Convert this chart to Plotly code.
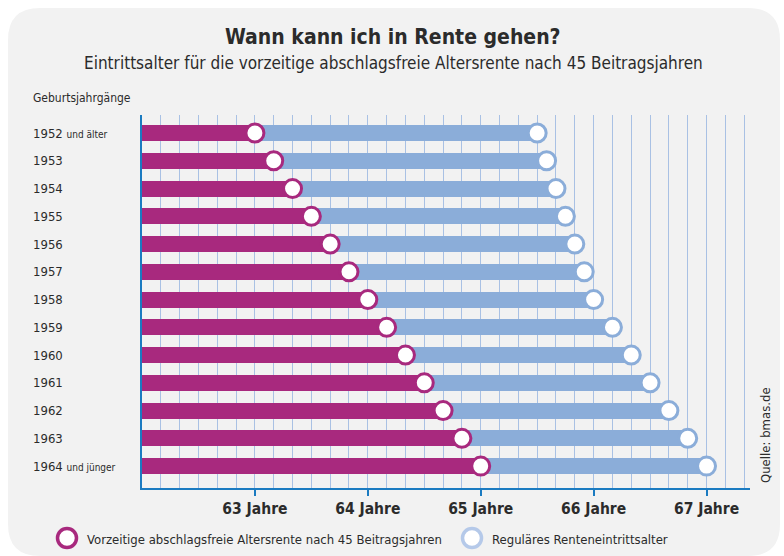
import plotly.graph_objects as go

# ---- data ----
cohorts = ["1952", "1953", "1954", "1955", "1956", "1957", "1958",
           "1959", "1960", "1961", "1962", "1963", "1964"]
cohort_suffix = ["und älter", "", "", "", "", "", "", "", "", "", "", "", "und jünger"]
# ages in (years, months)
early_age = [(63, 0), (63, 2), (63, 4), (63, 6), (63, 8), (63, 10), (64, 0),
             (64, 2), (64, 4), (64, 6), (64, 8), (64, 10), (65, 0)]
regular_age = [(65, 6), (65, 7), (65, 8), (65, 9), (65, 10), (65, 11), (66, 0),
               (66, 2), (66, 4), (66, 6), (66, 8), (66, 10), (67, 0)]
tick_years = [63, 64, 65, 66, 67]
tick_labels = ["63 Jahre", "64 Jahre", "65 Jahre", "66 Jahre", "67 Jahre"]

early = [y + m / 12 for y, m in early_age]
regular = [y + m / 12 for y, m in regular_age]
x_start = 62.0
idx = list(range(len(cohorts)))

MAGENTA = "#a8297e"
BLUE = "#8badd9"
BLUE_LIGHT = "#b5c9e9"
AXIS = "#1b7bc1"
GRID = "#a9c1e4"
TXT = "#2b2b2b"
FONT = "Liberation Sans Narrow, Arial Narrow, DejaVu Sans Condensed, sans-serif"

W, H = 784, 556
L, R, T, B = 142, 34, 115, 68
PW, PH = W - L - R, H - T - B


def px(xp):
    return (xp - L) / PW


def py(yp):
    return (H - B - yp) / PH


fig = go.Figure()

fig.add_trace(go.Bar(
    y=idx, x=[e - x_start for e in early], base=[x_start] * len(idx),
    orientation="h", marker=dict(color=MAGENTA, line=dict(width=0)),
    width=0.58, showlegend=False, hoverinfo="skip"))
fig.add_trace(go.Bar(
    y=idx, x=[r - e for r, e in zip(regular, early)], base=early,
    orientation="h", marker=dict(color=BLUE, line=dict(width=0)),
    width=0.58, showlegend=False, hoverinfo="skip"))

fig.add_trace(go.Scatter(
    x=regular, y=idx, mode="markers",
    marker=dict(size=18, color="white", line=dict(color=BLUE, width=3)),
    showlegend=False, hoverinfo="skip"))
fig.add_trace(go.Scatter(
    x=early, y=idx, mode="markers",
    marker=dict(size=18, color="white", line=dict(color=MAGENTA, width=3)),
    showlegend=False, hoverinfo="skip"))

# rounded background panel
x0, x1 = px(8), px(780)
y0, y1 = py(556), py(8)
rx, ry = 32 / PW, 32 / PH
path = (f"M {x0+rx},{y1} L {x1-rx},{y1} Q {x1},{y1} {x1},{y1-ry} "
        f"L {x1},{y0+ry} Q {x1},{y0} {x1-rx},{y0} "
        f"L {x0+rx},{y0} Q {x0},{y0} {x0},{y0+ry} "
        f"L {x0},{y1-ry} Q {x0},{y1} {x0+rx},{y1} Z")
shapes = [dict(type="path", path=path, xref="paper", yref="paper",
               fillcolor="#f2f2f2", line=dict(width=0), layer="below")]

# legend circles
for cx, col in [(67, MAGENTA), (472, BLUE_LIGHT)]:
    shapes.append(dict(type="circle", xref="paper", yref="paper",
                       xsizemode="pixel", ysizemode="pixel",
                       xanchor=px(cx), yanchor=py(538),
                       x0=-9.5, x1=9.5, y0=-9.5, y1=9.5,
                       fillcolor="white", line=dict(color=col, width=3.5)))

ann = [
    dict(text="<b>Wann kann ich in Rente gehen?</b>", x=px(393), y=py(37),
         font=dict(size=21, color=TXT)),
    dict(text="Eintrittsalter für die vorzeitige abschlagsfreie Altersrente nach 45 Beitragsjahren",
         x=px(393), y=py(63), font=dict(size=17, color=TXT)),
    dict(text="Geburtsjahrgänge", x=px(31), y=py(98), xanchor="left",
         font=dict(size=12, color=TXT)),
    dict(text="Vorzeitige abschlagsfreie Altersrente nach 45 Beitragsjahren",
         x=px(85), y=py(539), xanchor="left", font=dict(size=13, color=TXT)),
    dict(text="Reguläres Renteneintrittsalter",
         x=px(490), y=py(539), xanchor="left", font=dict(size=13, color=TXT)),
    dict(text="Quelle: bmas.de", x=px(765), y=py(435), textangle=-90,
         font=dict(size=13, color=TXT)),
]
for i, (c, s) in enumerate(zip(cohorts, cohort_suffix)):
    t = c if not s else f"{c} <span style='font-size:10px'>{s}</span>"
    ann.append(dict(text=t, x=px(31), y=i, yref="y", xanchor="left",
                    font=dict(size=13, color=TXT)))
for a in ann:
    a.setdefault("xref", "paper")
    a.setdefault("yref", "paper")
    a.setdefault("showarrow", False)
    a.setdefault("yanchor", "middle")
    a.setdefault("xanchor", "center")

fig.update_layout(
    width=W, height=H, margin=dict(l=L, r=R, t=T, b=B),
    paper_bgcolor="white", plot_bgcolor="rgba(0,0,0,0)",
    font=dict(family=FONT, color=TXT),
    barmode="overlay", bargap=0,
    shapes=shapes, annotations=ann,
    xaxis=dict(range=[x_start, 67.385], tickvals=tick_years, ticktext=tick_labels,
               tickfont=dict(size=15.5, color=TXT, family=FONT, weight="bold"),
               ticks="outside", ticklen=6, tickcolor=AXIS, tickwidth=1.5,
               showline=True, linecolor=AXIS, linewidth=1.5,
               showgrid=True, gridcolor=GRID, gridwidth=1,
               minor=dict(dtick=1/6, tick0=62, showgrid=True, gridcolor=GRID,
                          gridwidth=1, ticks=""),
               zeroline=False, fixedrange=True),
    yaxis=dict(range=[12.79, -0.65], showticklabels=False, ticks="",
               showgrid=False, zeroline=False,
               showline=True, linecolor=AXIS, linewidth=1.5, fixedrange=True),
)

fig.write_html("out.html", config={"displayModeBar": False},
               post_script="document.body.style.margin='0';")
